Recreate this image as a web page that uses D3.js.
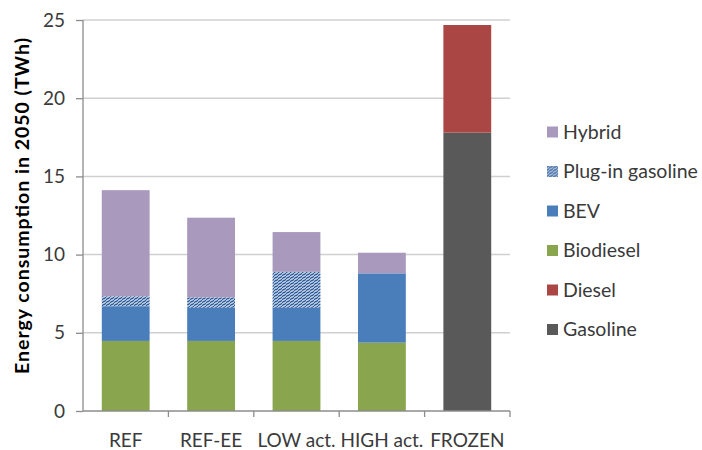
<!DOCTYPE html>
<html><head><meta charset="utf-8">
<script src="https://cdn.jsdelivr.net/npm/d3@7"></script>
<style>
html,body{margin:0;padding:0;background:#fff;}
svg{display:block;font-family:Lato, "Liberation Sans", sans-serif;}
</style></head>
<body>
<svg id="chart" width="702" height="450"></svg>
<script>
const categories = ["REF", "REF-EE", "LOW act.", "HIGH act.", "FROZEN"];
const seriesNames = ["Gasoline", "Diesel", "Biodiesel", "BEV", "Plug-in gasoline", "Hybrid"];
const gasoline   = [0, 0, 0, 0, 17.8];
const diesel     = [0, 0, 0, 0, 6.88];
const biodiesel  = [4.48, 4.48, 4.48, 4.37, 0];
const bev        = [2.22, 2.12, 2.12, 4.43, 0];
const plugin     = [0.64, 0.67, 2.30, 0, 0];
const hybrid     = [6.78, 5.09, 2.54, 1.32, 0];
const yTicks = [0, 5, 10, 15, 20, 25];
const legendOrder = ["Hybrid", "Plug-in gasoline", "BEV", "Biodiesel", "Diesel", "Gasoline"];
const yTitle = "Energy consumption in 2050 (TWh)";

const colors = {
  "Gasoline": "#595959",
  "Diesel": "#aa4643",
  "Biodiesel": "#89a54e",
  "BEV": "#4a7ebb",
  "Plug-in gasoline": "url(#plugPat)",
  "Hybrid": "#a899bd"
};
const valuesBySeries = {
  "Gasoline": gasoline, "Diesel": diesel, "Biodiesel": biodiesel,
  "BEV": bev, "Plug-in gasoline": plugin, "Hybrid": hybrid
};

const svg = d3.select("#chart");
const defs = svg.append("defs");
const pat = defs.append("pattern").attr("id", "plugPat")
  .attr("patternUnits", "userSpaceOnUse").attr("width", 4).attr("height", 3);
pat.append("rect").attr("width", 4).attr("height", 3).attr("fill", "#e8eef7");
pat.append("path").attr("d", "M0,2 L2,0 M2,3 L4,1")
  .attr("stroke", "#2b5a98").attr("stroke-width", 1.4);

const mLeft = 83, mRight = 510, mTop = 20, mBottom = 411;
const x = d3.scaleBand().domain(categories).range([mLeft, mRight]).paddingInner(0.44).paddingOuter(0.22);
const xb = d3.scaleBand().domain(categories).range([mLeft, mRight]);
const y = d3.scaleLinear().domain([0, 25]).range([mBottom, mTop]);

// gridlines
svg.append("g").selectAll("line").data(yTicks.filter(d => d > 0)).join("line")
  .attr("x1", mLeft).attr("x2", mRight)
  .attr("y1", d => y(d)).attr("y2", d => y(d))
  .attr("stroke", "#d0d0d0").attr("stroke-width", 1.5);

// stacked bars
const table = categories.map((c, i) => {
  const o = {cat: c};
  seriesNames.forEach(s => o[s] = valuesBySeries[s][i]);
  return o;
});
const stack = d3.stack().keys(seriesNames)(table);
svg.append("g").selectAll("g").data(stack).join("g")
  .attr("fill", d => colors[d.key])
  .selectAll("rect").data(d => d.filter(p => p[1] - p[0] > 0)).join("rect")
  .attr("x", d => x(d.data.cat))
  .attr("width", x.bandwidth())
  .attr("y", d => y(d[1]))
  .attr("height", d => y(d[0]) - y(d[1]));

// y axis
const yAxis = d3.axisLeft(y).tickValues(yTicks).tickSize(7).tickPadding(11);
const gy = svg.append("g").attr("transform", `translate(${mLeft},0)`).call(yAxis);
gy.select(".domain").attr("stroke", "#8c8c8c").attr("stroke-width", 1.3).attr("d", `M0,${mBottom}V${mTop}`);
gy.selectAll(".tick line").attr("stroke", "#8c8c8c").attr("stroke-width", 1.3);
gy.selectAll(".tick text").attr("fill", "#3a3a3a").attr("font-size", 19)
  .attr("font-family", "Lato, sans-serif");

// x axis
const gx = svg.append("g");
gx.append("line").attr("x1", mLeft).attr("x2", mRight).attr("y1", mBottom).attr("y2", mBottom)
  .attr("stroke", "#8c8c8c").attr("stroke-width", 1.3);
gx.selectAll("line.tk").data(categories).join("line").attr("class", "tk")
  .attr("x1", d => xb(d) + xb.bandwidth()).attr("x2", d => xb(d) + xb.bandwidth())
  .attr("y1", mBottom).attr("y2", mBottom + 6)
  .attr("stroke", "#8c8c8c").attr("stroke-width", 1.3);
gx.selectAll("text").data(categories).join("text")
  .attr("x", d => xb(d) + xb.bandwidth() / 2).attr("y", 447)
  .attr("text-anchor", "middle").attr("fill", "#3a3a3a").attr("font-size", 19)
  .text(d => d);

// y title
svg.append("text").attr("transform", "translate(29,206) rotate(-90)")
  .attr("text-anchor", "middle").attr("font-weight", "bold").attr("font-size", 19.5)
  .attr("textLength", 336).attr("lengthAdjust", "spacing")
  .attr("fill", "#000").text(yTitle);

// legend
const lg = svg.append("g").selectAll("g").data(legendOrder).join("g")
  .attr("transform", (d, i) => `translate(547,${132 + i * 39.5})`);
lg.append("rect").attr("x", 0).attr("y", -5.5).attr("width", 11).attr("height", 11)
  .attr("fill", d => colors[d]);
lg.append("text").attr("x", 16).attr("y", 0).attr("dy", "0.35em")
  .attr("font-size", 19.5).attr("fill", "#3a3a3a").text(d => d);
</script>
</body></html>
